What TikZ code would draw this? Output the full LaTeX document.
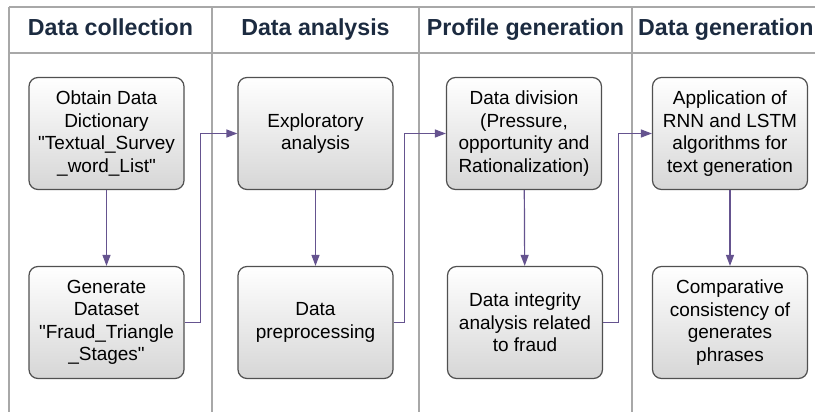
\documentclass[tikz,border=0pt]{standalone}
\usepackage{fontspec}
\setmainfont{Liberation Sans}
\usepackage{xcolor}
\usetikzlibrary{arrows.meta}

\definecolor{lanegray}{HTML}{A8A8A8}
\definecolor{headnavy}{HTML}{1C2B40}
\definecolor{boxedge}{HTML}{505050}
\definecolor{flowpurple}{HTML}{65538F}

\newcommand{\qt}{\textquotedbl}

\tikzset{
	lane/.style={draw=lanegray, line width=1.2pt},
	lanehead/.style={font=\fontsize{23.2}{27}\selectfont\bfseries, text=headnavy, inner sep=0pt, anchor=base},
	stepbox/.style={draw=boxedge, line width=1.2pt, rounded corners=9pt,
		top color=white, bottom color=black!16,
		minimum width=155pt, minimum height=112pt, inner sep=0pt,
		align=center, font=\fontsize{19}{22.5}\selectfont},
	flow/.style={color=flowpurple, line width=1.2pt, -{Triangle[length=11pt,width=8pt]}}
}

\begin{document}
\begin{tikzpicture}[x=1pt,y=-1pt]
	\clip (0,0) rectangle (815,412);
	\fill[white] (0,0) rectangle (815,412);
	
	% lanes
	\draw[lane] (9,7) -- (815,7);
	\draw[lane] (9,53) -- (815,53);
	\foreach \xl in {9,212,419,632}
		\draw[lane] (\xl,7) -- (\xl,412);
	
	\node[lanehead] (h1) at (110.5,36) {Data collection};
	\node[lanehead] (h2) at (315.5,36) {Data analysis};
	\node[lanehead] (h3) at (525.5,36) {Profile generation};
	\node[lanehead, anchor=base west] (h4) at (638,36) {Data generation};
	
	% steps
	\node[stepbox] (obtain) at (106.5,133.5) {Obtain Data\\Dictionary\\\qt Textual\_Survey\\\_word\_List\qt};
	\node[stepbox] (dataset) at (106.5,322.5) {Generate\\Dataset\\\qt Fraud\_Triangle\\\_Stages\qt};
	\node[stepbox] (explore) at (315.5,133.5) {Exploratory\\analysis};
	\node[stepbox] (prep) at (315.5,322.5) {Data\\preprocessing};
	\node[stepbox] (division) at (524,133.5) {Data division\\(Pressure,\\opportunity and\\Rationalization)};
	\node[stepbox] (integrity) at (525,322.5) {Data integrity\\analysis related\\to fraud};
	\node[stepbox] (rnn) at (730,133.5) {Application of\\RNN and LSTM\\algorithms for\\text generation};
	\node[stepbox] (compare) at (730,322.5) {Comparative\\consistency of\\generates\\phrases};
	
	% flow
	\draw[flow] (obtain) -- (dataset);
	\draw[flow] (explore) -- (prep);
	\draw[flow] (division) -- (integrity);
	\draw[flow] (rnn) -- (compare);
	\draw[flow] (dataset.east) -- ++(16,0) |- (explore.west);
	\draw[flow] (prep.east) -- ++(11,0) |- (division.west);
	\draw[flow] (integrity.east) -- ++(15.5,0) |- (rnn.west);
\end{tikzpicture}
\end{document}
